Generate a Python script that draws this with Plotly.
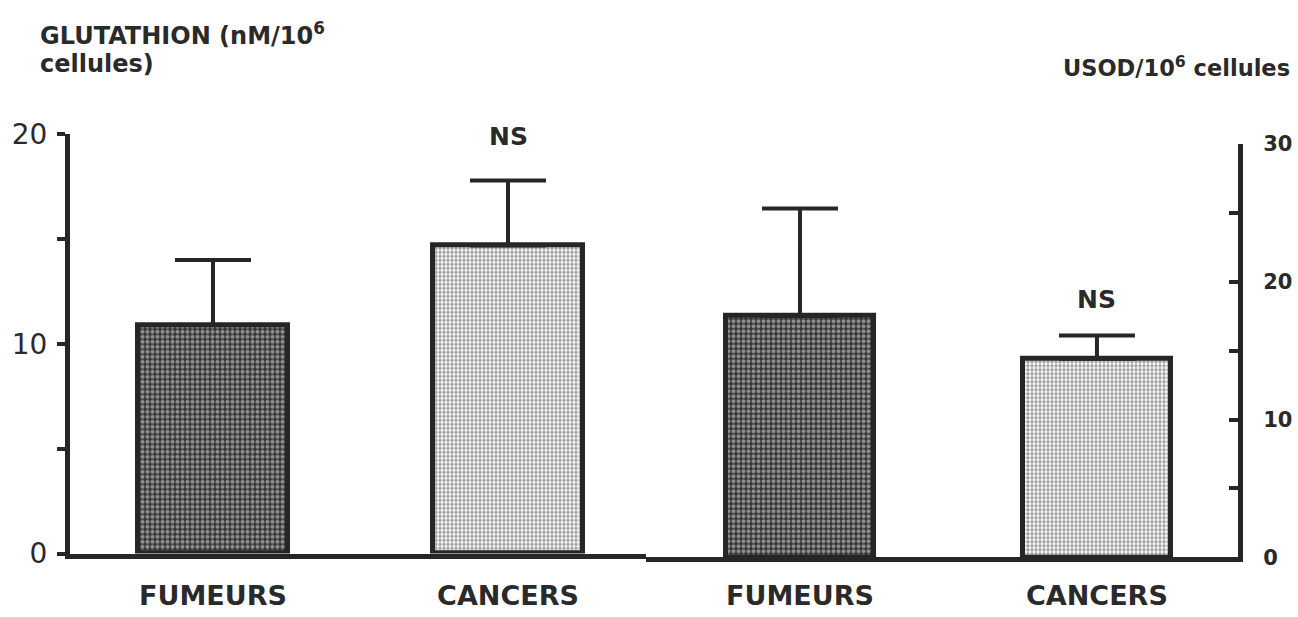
import plotly.graph_objects as go

# ---- data ----
categories = ["FUMEURS", "CANCERS"]
glut_mean = [10.9, 14.7]          # left axis, nM/10^6 cellules
glut_sd = [3.1, 3.1]
usod_mean = [17.5, 14.4]          # right axis, USOD/10^6 cellules
usod_sd = [7.8, 1.7]
left_ticks = [0, 10, 20]
right_ticks = [0, 10, 20, 30]
ns_labels = ["NS", "NS"]

W, H = 1298, 617
INK = "#262626"
TXT = "#2a2a2a"
BOLD = "DejaVu Sans"


def pxx(x):
    return x / W


def pyy(y):
    return 1 - y / H


dark = dict(shape=".", bgcolor="#363636", fgcolor="#e8e8e8", size=5, solidity=0.5)
light = dict(shape=".", bgcolor="#ffffff", fgcolor="#3c3c3c", size=4, solidity=0.55)
patterns = [dark, light]

fig = go.Figure()
xpos = [0, 1]

for i in range(2):
    fig.add_trace(go.Bar(
        x=[xpos[i]], y=[glut_mean[i]], width=0.51,
        marker=dict(pattern=patterns[i], line=dict(color=INK, width=5)),
        error_y=dict(type="data", symmetric=False, array=[glut_sd[i]], arrayminus=[0],
                     thickness=4, width=38, color=INK),
        xaxis="x", yaxis="y", showlegend=False, hoverinfo="skip"))
for i in range(2):
    fig.add_trace(go.Bar(
        x=[xpos[i]], y=[usod_mean[i]], width=0.5,
        marker=dict(pattern=patterns[i], line=dict(color=INK, width=5)),
        error_y=dict(type="data", symmetric=False, array=[usod_sd[i]], arrayminus=[0],
                     thickness=4, width=38, color=INK),
        xaxis="x2", yaxis="y2", showlegend=False, hoverinfo="skip"))

xcommon = dict(showline=True, linewidth=5, linecolor=INK, showgrid=False, zeroline=False,
               tickvals=xpos, ticktext=categories, ticks="",
               tickfont=dict(family=BOLD, size=27, color=TXT, weight="bold"),
               fixedrange=True)

fig.update_layout(
    width=W, height=H,
    margin=dict(l=0, r=0, t=0, b=0),
    paper_bgcolor="white", plot_bgcolor="white",
    bargap=0,
    xaxis=dict(domain=[pxx(70), pxx(646)], range=[-0.4847, 1.4678], anchor="y",
               ticklabelstandoff=14, **xcommon),
    xaxis2=dict(domain=[pxx(646), pxx(1238)], range=[-0.5185, 1.475], anchor="y2",
                ticklabelstandoff=10, **xcommon),
    yaxis=dict(domain=[pyy(568), pyy(125)], range=[0, 20], anchor="x",
               tickvals=left_ticks,
               ticks="outside", ticklen=8, tickwidth=4, tickcolor=INK,
               minor=dict(dtick=5, ticks="outside", ticklen=8, tickwidth=4,
                          tickcolor=INK, showgrid=False),
               showline=True, linewidth=5, linecolor=INK,
               showgrid=False, zeroline=False,
               tickfont=dict(family="DejaVu Sans", size=28, color=TXT),
               ticklabelstandoff=4, fixedrange=True),
    yaxis2=dict(domain=[pyy(572), pyy(135)], range=[0, 30], anchor="x2", side="right",
                tickvals=right_ticks,
                ticks="inside", ticklen=9, tickwidth=4, tickcolor=INK,
                minor=dict(dtick=5, ticks="inside", ticklen=9, tickwidth=4,
                           tickcolor=INK, showgrid=False),
                showline=True, linewidth=5, linecolor=INK,
                showgrid=False, zeroline=False,
                tickfont=dict(family=BOLD, size=21, color=TXT, weight="bold"),
                ticklabelstandoff=16, fixedrange=True),
)

title_font = dict(family=BOLD, size=24, color=TXT, weight="bold")
annotations = [
    dict(text="GLUTATHION (nM/10<sup>6</sup>", xref="paper", yref="paper",
         x=pxx(38), y=pyy(0), xanchor="left", yanchor="top", showarrow=False,
         font=title_font),
    dict(text="cellules)", xref="paper", yref="paper",
         x=pxx(38), y=pyy(34), xanchor="left", yanchor="top", showarrow=False,
         font=title_font),
    dict(text="USOD/10<sup>6</sup> cellules", xref="paper", yref="paper",
         x=pxx(1292), y=pyy(53), xanchor="right", yanchor="middle", showarrow=False,
         font=dict(family=BOLD, size=22.5, color=TXT, weight="bold")),
    dict(text=ns_labels[0], xref="x", yref="y", x=xpos[1], y=glut_mean[1] + glut_sd[1],
         yanchor="bottom", yshift=27, showarrow=False,
         font=dict(family=BOLD, size=25, color=TXT, weight="bold")),
    dict(text=ns_labels[1], xref="x2", yref="y2", x=xpos[1], y=usod_mean[1] + usod_sd[1],
         yanchor="bottom", yshift=19, showarrow=False,
         font=dict(family=BOLD, size=25, color=TXT, weight="bold")),
]
fig.update_layout(annotations=annotations)

fig.write_html(
    "out.html",
    config={"displayModeBar": False},
    post_script="document.body.style.margin='0px';document.body.style.overflow='hidden';",
)
